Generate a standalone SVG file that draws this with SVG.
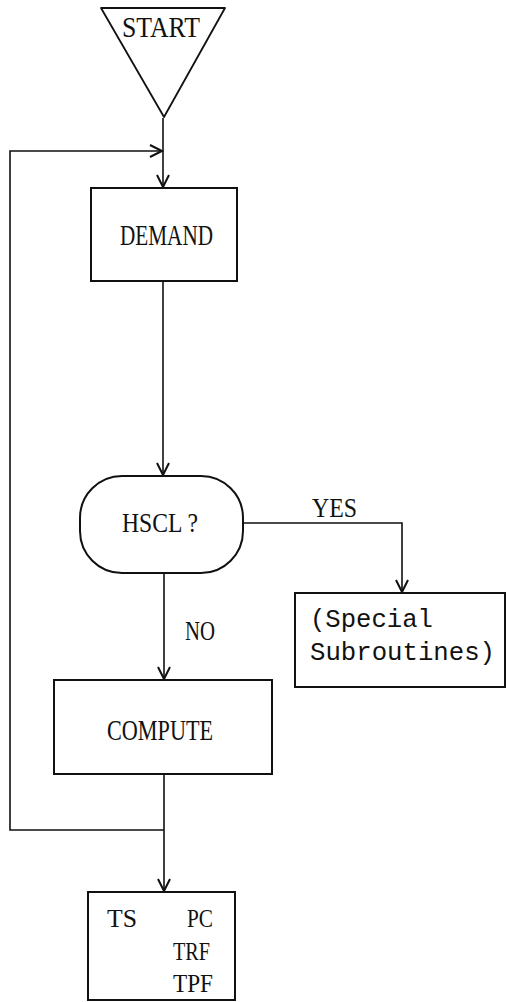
<svg xmlns="http://www.w3.org/2000/svg" width="507" height="1002" viewBox="0 0 507 1002">
<style>
.box{fill:#fff;stroke:#111;stroke-width:2}
.ln{fill:none;stroke:#111;stroke-width:1.6}
.t{font-family:"Liberation Serif","Times New Roman",serif;fill:#111}
.m{font-family:"Liberation Mono","Courier New",monospace;fill:#111}
</style>
<defs>
<marker id="ah" markerUnits="userSpaceOnUse" markerWidth="20" markerHeight="20" viewBox="-14 -10 16 20" refX="0" refY="0" orient="auto">
<path d="M-12,-6 L0,0 L-12,6" fill="none" stroke="#111" stroke-width="2"/>
</marker>
</defs>
<rect width="507" height="1002" fill="#fff"/>
<g id="connectors">
<line class="ln" x1="163" y1="118" x2="163" y2="187" marker-end="url(#ah)"/>
<polyline class="ln" points="164,830 10,830 10,151 162,151" marker-end="url(#ah)"/>
<line class="ln" x1="163" y1="281" x2="163" y2="475" marker-end="url(#ah)"/>
<polyline class="ln" points="243,523 402,523 402,592" marker-end="url(#ah)"/>
<line class="ln" x1="164" y1="573" x2="164" y2="679" marker-end="url(#ah)"/>
<line class="ln" x1="164" y1="774" x2="164" y2="891" marker-end="url(#ah)"/>
<text class="t" x="312" y="517" font-size="27" textLength="45" lengthAdjust="spacingAndGlyphs">YES</text>
<text class="t" x="185" y="640" font-size="27" textLength="30" lengthAdjust="spacingAndGlyphs">NO</text>
</g>
<g id="start">
<path d="M101,8 L225,8 L164,117 Z" fill="#fff" stroke="#111" stroke-width="1.8" stroke-linejoin="round"/>
<text class="t" x="122" y="37" font-size="30" textLength="78" lengthAdjust="spacingAndGlyphs">START</text>
</g>
<g id="demand">
<rect class="box" x="91" y="188" width="146" height="93"/>
<text class="t" x="120" y="245" font-size="29" textLength="93" lengthAdjust="spacingAndGlyphs">DEMAND</text>
</g>
<g id="hscl">
<rect class="box" x="80" y="476" width="163" height="97" rx="42" ry="42"/>
<text class="t" x="122" y="532" font-size="28" textLength="76" lengthAdjust="spacingAndGlyphs">HSCL ?</text>
</g>
<g id="special">
<rect class="box" x="295" y="593" width="210" height="94"/>
<text class="m" x="310" y="627" font-size="26" textLength="123" lengthAdjust="spacingAndGlyphs">(Special</text>
<text class="m" x="310" y="660" font-size="26" textLength="185" lengthAdjust="spacingAndGlyphs">Subroutines)</text>
</g>
<g id="compute">
<rect class="box" x="54" y="680" width="218" height="94"/>
<text class="t" x="107" y="740" font-size="29" textLength="106" lengthAdjust="spacingAndGlyphs">COMPUTE</text>
</g>
<g id="output">
<rect class="box" x="88" y="892" width="147" height="108"/>
<text class="t" x="107" y="927" font-size="26" textLength="30" lengthAdjust="spacingAndGlyphs">TS</text>
<text class="t" x="187" y="927" font-size="26" textLength="26" lengthAdjust="spacingAndGlyphs">PC</text>
<text class="t" x="173" y="960" font-size="26" textLength="37" lengthAdjust="spacingAndGlyphs">TRF</text>
<text class="t" x="173" y="992" font-size="26" textLength="40" lengthAdjust="spacingAndGlyphs">TPF</text>
</g>
</svg>
